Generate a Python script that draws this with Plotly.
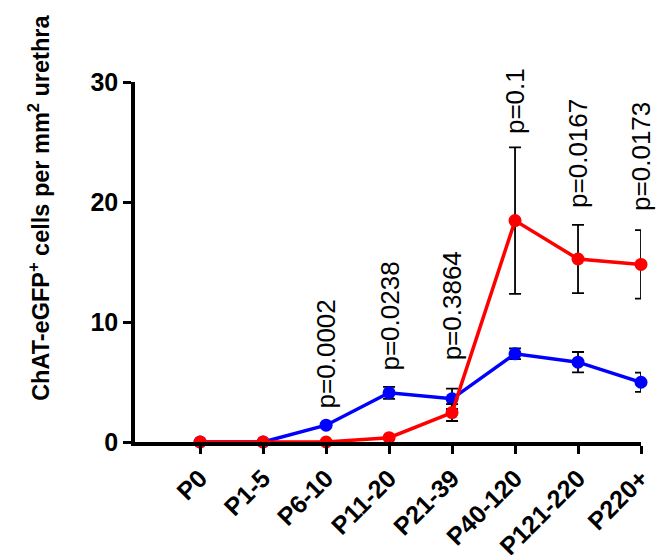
import plotly.graph_objects as go

categories = ["P0", "P1-5", "P6-10", "P11-20", "P21-39", "P40-120", "P121-220", "P220+"]

blue_mean = [0.0, 0.0, 1.4, 4.1, 3.6, 7.35, 6.65, 4.98]
blue_err = [None, None, None, 0.5, 0.85, 0.45, 0.85, 0.8]

red_mean = [0.0, 0.0, 0.0, 0.36, 2.45, 18.45, 15.25, 14.8]
red_err = [None, None, None, None, 0.7, 6.1, 2.85, 2.85]

p_labels = ["p=0.0002", "p=0.0238", "p=0.3864", "p=0.1", "p=0.0167", "p=0.0173"]
p_categories = ["P6-10", "P11-20", "P21-39", "P40-120", "P121-220", "P220+"]
p_y = [2.6, 5.75, 6.6, 25.5, 19.3, 19.05]

y_ticks = [0, 10, 20, 30]

FONT = "Arial, Liberation Sans, sans-serif"

fig = go.Figure()
fig.add_trace(go.Scatter(
    x=categories, y=blue_mean, mode="lines+markers",
    line=dict(color="#0000ff", width=3.5),
    marker=dict(color="#0000ff", size=13),
    error_y=dict(type="data", array=blue_err, visible=True, color="black", thickness=1.8, width=6),
    cliponaxis=False, showlegend=False,
))
fig.add_trace(go.Scatter(
    x=categories, y=red_mean, mode="lines+markers",
    line=dict(color="#ff0000", width=3.5),
    marker=dict(color="#ff0000", size=13),
    error_y=dict(type="data", array=red_err, visible=True, color="black", thickness=1.8, width=6),
    cliponaxis=False, showlegend=False,
))

for lab, cat, yv in zip(p_labels, p_categories, p_y):
    fig.add_annotation(
        x=cat, y=yv, xref="x", yref="y", text=lab, showarrow=False,
        textangle=-90, xanchor="center", yanchor="bottom",
        font=dict(family=FONT, size=26, color="black"),
    )

fig.add_annotation(
    xref="paper", yref="paper", x=-0.19, y=0.65,
    text="ChAT-eGFP<sup>+</sup> cells per mm<sup>2</sup> urethra",
    showarrow=False, textangle=-90, xanchor="center", yanchor="middle",
    font=dict(family=FONT, size=23.5, color="black", weight="bold"),
)

fig.update_layout(
    width=664, height=555,
    margin=dict(l=127, r=31, t=74, b=121),
    paper_bgcolor="white", plot_bgcolor="white",
    font=dict(family=FONT, color="black"),
    xaxis=dict(
        type="category", categoryorder="array", categoryarray=categories,
        range=[-1.034, 7], showline=True, linecolor="black", linewidth=3.5,
        ticks="outside", ticklen=8, tickwidth=3, tickcolor="black",
        tickangle=-45, showgrid=False, zeroline=False, automargin=False,
        tickfont=dict(family=FONT, size=25, color="black", weight="bold"),
    ),
    yaxis=dict(
        range=[0, 30], tickvals=y_ticks, showline=True, linecolor="black", linewidth=3.5,
        ticks="outside", ticklen=8, tickwidth=3, tickcolor="black",
        showgrid=False, zeroline=False, automargin=False,
        tickfont=dict(family=FONT, size=25, color="black", weight="bold"),
    ),
)

fig.write_html("out.html")
